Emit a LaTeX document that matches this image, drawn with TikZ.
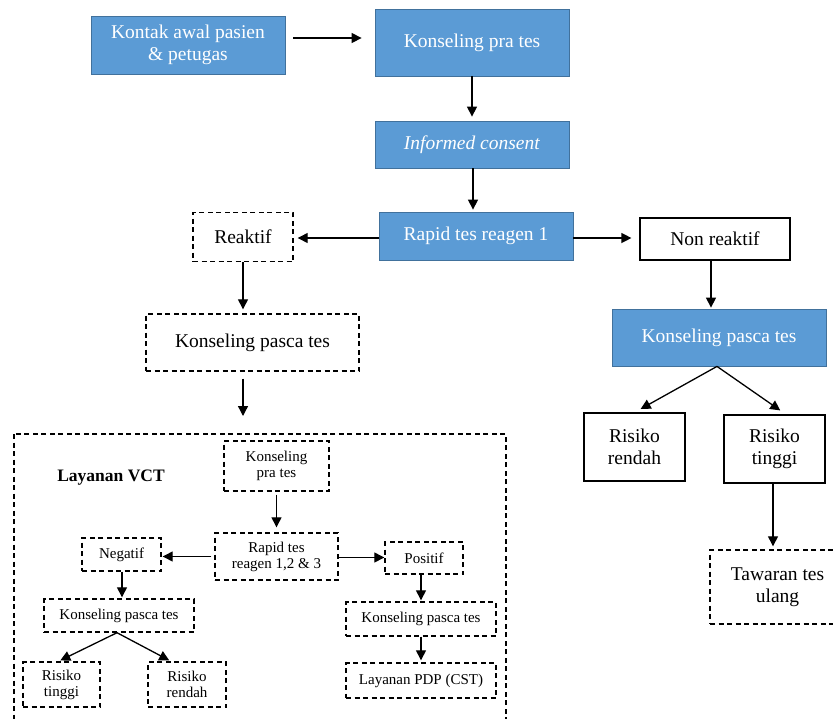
\documentclass[tikz,border=0pt]{standalone}
\usepackage{fontspec}
\setmainfont{Liberation Serif}
\usetikzlibrary{arrows.meta}
\definecolor{boxblue}{HTML}{5B9BD5}
\definecolor{edgeblue}{HTML}{41719C}
\def\bigfont{\fontsize{19.5}{21.7}\selectfont}
\def\smallfont{\fontsize{15}{16}\selectfont}
\tikzset{
  bluebox/.style={draw=edgeblue, line width=0.8pt, fill=boxblue, text=white, font=\bigfont, align=center, inner sep=0pt},
  plainbox/.style={draw, line width=1.2pt, fill=white, font=\bigfont, align=center, inner sep=0pt},
  dashbox/.style={plainbox, dash pattern=on 5pt off 3.5pt, line width=1.4pt},
  smallbox/.style={dashbox, font=\smallfont},
  arr/.style={-{Triangle[length=10pt,width=10pt]}, line width=1.3pt},
}

\begin{document}
\begin{tikzpicture}[x=1pt,y=-1pt]
		%%%%% START %%%%%
		\useasboundingbox (0,0) rectangle (833,718);
		
		\node[bluebox, minimum width=194, minimum height=58] (kontak) at (188,45) {Kontak awal pasien\\\& petugas};
		\node[bluebox, minimum width=194, minimum height=67] (prates) at (472,42.5) {Konseling pra tes};
		\node[bluebox, minimum width=194, minimum height=47] (consent) at (472,144.5) {\textit{Informed consent}};
		\node[bluebox, minimum width=194, minimum height=48] (rapid1) at (476,236) {Rapid tes reagen 1};
		
		\node[dashbox, minimum width=100, minimum height=49] (reaktif) at (243,237) {Reaktif};
		\node[dashbox, minimum width=213, minimum height=57] (pascaL) at (252.5,342.5) {Konseling pasca tes};
		\coordinate (vcttop) at (243,416);
		
		\node[plainbox, minimum width=150, minimum height=42] (nonreaktif) at (715,239) {Non reaktif};
		\node[bluebox, minimum width=214, minimum height=57] (pascaR) at (719,337.5) {Konseling pasca tes};
		\node[plainbox, minimum width=101, minimum height=68] (rendahR) at (634.5,447) {Risiko\\rendah};
		\node[plainbox, minimum width=101, minimum height=68] (tinggiR) at (774.5,449) {Risiko\\tinggi};
		\node[dashbox, minimum width=135, minimum height=74] (tawaran) at (777.5,587) {Tawaran tes\\ulang};
		
		\draw[arr, shorten <=8pt, shorten >=13pt] ([yshift=7pt]kontak.east) -- ([yshift=7pt]kontak.east -| prates.west);
		\draw[arr, shorten >=4pt] (prates.south) -- (consent.north);
		\draw[arr, shorten >=2pt] ([xshift=1pt]consent.south) -- ([xshift=1pt]consent.south |- rapid1.north);
		\draw[arr, shorten >=4pt] ([yshift=-2pt]rapid1.west) -- ([yshift=-2pt]rapid1.west -| reaktif.east);
		\draw[arr, shorten >=8pt] ([yshift=-2pt]rapid1.east) -- ([yshift=-2pt]rapid1.east -| nonreaktif.west);
		\draw[arr, shorten >=1pt] ([xshift=-4pt]nonreaktif.south) -- ([xshift=-4pt]nonreaktif.south |- pascaR.north);
		\draw[arr, shorten >=7pt] ([xshift=-2pt]pascaR.south) -- (rendahR.north);
		\draw[arr, shorten >=7pt] ([xshift=-2pt]pascaR.south) -- ([xshift=11.5pt]tinggiR.north);
		\draw[arr, shorten >=3pt] ([xshift=-1.5pt]tinggiR.south) -- ([xshift=-1.5pt]tinggiR.south |- tawaran.north);
		
		\draw[arr, shorten >=4pt] (reaktif.south) -- (reaktif.south |- pascaL.north);
		\draw[arr, shorten <=7pt] (pascaL.south -| vcttop) -- (vcttop);
		
		% layanan VCT
		\draw[dash pattern=on 5pt off 3.5pt, line width=1.4pt] (14,434) rectangle (506,740);
		\node[font=\fontsize{17.5}{19}\selectfont\bfseries] (vcttitle) at (111,478) {Layanan VCT};
		
		\node[smallbox, minimum width=105, minimum height=50] (praV) at (276.5,466) {Konseling\\pra tes};
		\node[smallbox, minimum width=123, minimum height=47] (rapidV) at (276.5,556.5) {Rapid tes\\reagen 1,2 \& 3};
		\node[smallbox, minimum width=79, minimum height=33] (negV) at (121.5,554.5) {Negatif};
		\node[smallbox, minimum width=78, minimum height=32] (posV) at (424,558) {Positif};
		\node[smallbox, minimum width=150, minimum height=33] (pascaVL) at (119,615.5) {Konseling pasca tes};
		\node[smallbox, minimum width=77, minimum height=45] (tinggiV) at (61.5,684.5) {Risiko\\tinggi};
		\node[smallbox, minimum width=78, minimum height=45] (rendahV) at (187,684.5) {Risiko\\rendah};
		\node[smallbox, minimum width=150, minimum height=34] (pascaVR) at (421,619) {Konseling pasca tes};
		\node[smallbox, minimum width=150, minimum height=35] (pdpV) at (421,680.5) {Layanan PDP (CST)};
		
		\draw[arr, shorten <=3pt, shorten >=5pt] (praV.south) -- (rapidV.north);
		\draw[arr, shorten <=3pt, shorten >=1pt] (rapidV.west) -- (rapidV.west -| negV.east);
		\draw[arr] ([yshift=-1pt]rapidV.east) -- ([yshift=-1pt]rapidV.east -| posV.west);
		\draw[arr, shorten >=1pt] ([xshift=0.5pt]negV.south) -- ([xshift=0.5pt]negV.south |- pascaVL.north);
		\draw[arr, shorten >=2pt] ([xshift=-2pt]pascaVL.south) -- ([xshift=-3pt]tinggiV.north);
		\draw[arr, shorten >=2pt] ([xshift=-2pt]pascaVL.south) -- ([xshift=-16pt]rendahV.north);
		\draw[arr, shorten >=1pt] ([xshift=-3pt]posV.south) -- ([xshift=-3pt]posV.south |- pascaVR.north);
		\draw[arr, shorten >=2pt] (pascaVR.south) -- (pdpV.north);
		
		%%%%% END %%%%%
	\end{tikzpicture}
\end{document}
